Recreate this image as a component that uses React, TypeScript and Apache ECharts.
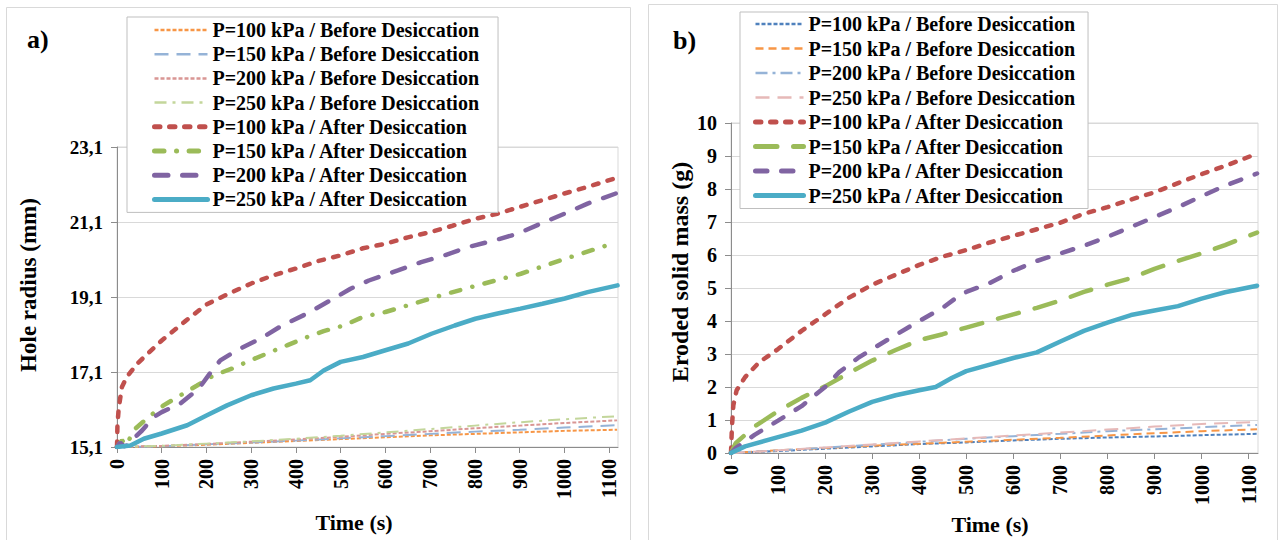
import React, { useEffect, useRef } from "react";
import * as echarts from "echarts";

type Pt = [number, number];

const SERIF = "'Liberation Serif', 'Times New Roman', serif";

const TIME_TICKS = [0, 100, 200, 300, 400, 500, 600, 700, 800, 900, 1000, 1100];
const RADIUS_TICKS = [15.1, 17.1, 19.1, 21.1, 23.1];

const SERIES_NAMES = [
  "P=100 kPa / Before Desiccation",
  "P=150 kPa / Before Desiccation",
  "P=200 kPa / Before Desiccation",
  "P=250 kPa / Before Desiccation",
  "P=100 kPa / After Desiccation",
  "P=150 kPa / After Desiccation",
  "P=200 kPa / After Desiccation",
  "P=250 kPa / After Desiccation",
];

// a) Hole radius (mm) versus time (s)
const radius100Before: Pt[] = [[0, 15.1], [100, 15.12], [200, 15.16], [300, 15.21], [400, 15.26], [500, 15.31], [600, 15.36], [700, 15.41], [800, 15.45], [900, 15.49], [1000, 15.53], [1118, 15.56]];
const radius150Before: Pt[] = [[0, 15.1], [100, 15.12], [200, 15.17], [300, 15.22], [400, 15.27], [500, 15.33], [600, 15.39], [700, 15.45], [800, 15.51], [900, 15.56], [1000, 15.62], [1118, 15.68]];
const radius200Before: Pt[] = [[0, 15.1], [100, 15.13], [200, 15.18], [300, 15.24], [400, 15.3], [500, 15.37], [600, 15.45], [700, 15.52], [800, 15.6], [900, 15.67], [1000, 15.74], [1118, 15.81]];
const radius250Before: Pt[] = [[0, 15.1], [100, 15.13], [200, 15.19], [300, 15.25], [400, 15.32], [500, 15.4], [600, 15.49], [700, 15.58], [800, 15.67], [900, 15.76], [1000, 15.84], [1118, 15.92]];
const radius100After: Pt[] = [[0, 15.1], [1, 15.7], [4, 16.15], [11, 16.7], [22, 16.97], [45, 17.32], [100, 17.94], [150, 18.43], [200, 18.9], [250, 19.19], [300, 19.46], [350, 19.68], [400, 19.86], [450, 20.06], [500, 20.21], [550, 20.4], [600, 20.52], [650, 20.69], [700, 20.83], [750, 21.0], [800, 21.18], [850, 21.32], [900, 21.5], [950, 21.68], [1000, 21.86], [1050, 22.03], [1115, 22.27]];
const radius150After: Pt[] = [[0, 15.1], [11, 15.28], [20, 15.15], [41, 15.59], [75, 15.94], [104, 16.21], [142, 16.48], [179, 16.74], [216, 17.01], [257, 17.19], [298, 17.41], [343, 17.63], [380, 17.81], [425, 18.03], [462, 18.19], [507, 18.34], [550, 18.57], [600, 18.7], [651, 18.88], [732, 19.17], [821, 19.46], [903, 19.72], [992, 20.08], [1096, 20.48], [1115, 20.55]];
const radius200After: Pt[] = [[0, 15.1], [7, 15.22], [15, 15.12], [25, 15.15], [41, 15.37], [56, 15.54], [82, 15.9], [100, 16.03], [142, 16.26], [183, 16.66], [210, 17.1], [231, 17.41], [268, 17.68], [321, 17.99], [369, 18.34], [425, 18.66], [477, 19.01], [522, 19.32], [563, 19.54], [628, 19.81], [680, 20.03], [732, 20.21], [784, 20.43], [844, 20.61], [896, 20.79], [948, 21.06], [1000, 21.32], [1052, 21.59], [1115, 21.86]];
const radius250After: Pt[] = [[0, 15.1], [30, 15.14], [60, 15.32], [100, 15.46], [157, 15.68], [200, 15.94], [246, 16.21], [300, 16.48], [350, 16.66], [400, 16.79], [432, 16.88], [462, 17.14], [500, 17.37], [550, 17.5], [600, 17.68], [651, 17.86], [703, 18.12], [755, 18.34], [801, 18.52], [851, 18.66], [902, 18.79], [951, 18.92], [1001, 19.06], [1052, 19.23], [1119, 19.41]];

// b) Eroded solid mass (g) versus time (s)
const mass100Before: Pt[] = [[0, 0], [100, 0.06], [200, 0.13], [300, 0.2], [400, 0.27], [500, 0.32], [600, 0.38], [700, 0.43], [800, 0.47], [900, 0.5], [1000, 0.54], [1118, 0.58]];
const mass150Before: Pt[] = [[0, 0], [100, 0.08], [200, 0.15], [300, 0.22], [400, 0.28], [500, 0.34], [600, 0.4], [700, 0.46], [800, 0.53], [900, 0.6], [1000, 0.66], [1118, 0.72]];
const mass200Before: Pt[] = [[0, 0], [100, 0.08], [200, 0.16], [300, 0.25], [400, 0.34], [500, 0.43], [600, 0.51], [700, 0.58], [800, 0.66], [900, 0.72], [1000, 0.78], [1118, 0.85]];
const mass250Before: Pt[] = [[0, 0], [100, 0.08], [200, 0.17], [300, 0.26], [400, 0.35], [500, 0.44], [600, 0.53], [700, 0.62], [800, 0.71], [900, 0.8], [1000, 0.88], [1118, 0.94]];
const mass100After: Pt[] = [[0, 0], [2, 0.8], [5, 1.45], [12, 1.9], [30, 2.3], [60, 2.75], [100, 3.15], [150, 3.7], [200, 4.2], [250, 4.7], [300, 5.1], [350, 5.4], [400, 5.7], [450, 5.95], [500, 6.15], [550, 6.38], [600, 6.58], [650, 6.78], [700, 6.98], [750, 7.25], [800, 7.45], [850, 7.68], [900, 7.9], [950, 8.18], [1000, 8.45], [1050, 8.7], [1118, 9.07]];
const mass150After: Pt[] = [[0, 0], [10, 0.3], [50, 0.8], [100, 1.27], [150, 1.67], [200, 2.02], [250, 2.42], [300, 2.8], [350, 3.12], [400, 3.42], [450, 3.6], [500, 3.8], [550, 4.0], [600, 4.2], [650, 4.4], [700, 4.62], [750, 4.88], [800, 5.1], [850, 5.3], [900, 5.58], [950, 5.82], [1000, 6.05], [1050, 6.3], [1118, 6.68]];
const mass200After: Pt[] = [[0, 0], [10, 0.15], [50, 0.55], [100, 0.98], [150, 1.42], [200, 2.0], [230, 2.45], [270, 2.88], [300, 3.15], [350, 3.58], [400, 4.0], [450, 4.4], [480, 4.72], [500, 4.88], [550, 5.15], [600, 5.52], [650, 5.82], [700, 6.05], [750, 6.28], [800, 6.55], [850, 6.85], [900, 7.15], [950, 7.45], [1000, 7.78], [1050, 8.1], [1118, 8.47]];
const mass250After: Pt[] = [[0, 0], [30, 0.2], [100, 0.48], [150, 0.68], [200, 0.92], [250, 1.25], [300, 1.55], [350, 1.75], [400, 1.9], [435, 2.0], [470, 2.28], [500, 2.48], [550, 2.68], [600, 2.88], [650, 3.05], [700, 3.38], [750, 3.7], [800, 3.95], [850, 4.18], [900, 4.32], [950, 4.45], [1000, 4.68], [1050, 4.87], [1118, 5.07]];

type Style = { color: string; width: number; dash: number[] | "solid"; cap: "butt" | "round" };

// Thin "before" curves use square-ended dashes; thick "after" curves use rounded dashes
const RADIUS_STYLES: Style[] = [
  { color: "#f79646", width: 2, dash: [4, 2], cap: "butt" },
  { color: "#95b3d7", width: 2, dash: [14, 8], cap: "butt" },
  { color: "#d99694", width: 2, dash: [4, 2], cap: "butt" },
  { color: "#c3d69b", width: 2, dash: [12, 6, 3, 6], cap: "butt" },
  { color: "#c0504d", width: 4.5, dash: [5.5, 9.5], cap: "round" },
  { color: "#9bbb59", width: 4.5, dash: [9.5, 12.5, 0.1, 12.5], cap: "round" },
  { color: "#8064a2", width: 4.5, dash: [13.5, 14.5], cap: "round" },
  { color: "#4bacc6", width: 4.5, dash: "solid", cap: "round" },
];

const MASS_STYLES: Style[] = [
  { color: "#4f81bd", width: 2, dash: [4, 2], cap: "butt" },
  { color: "#f79646", width: 2, dash: [8, 5], cap: "butt" },
  { color: "#95b3d7", width: 2, dash: [12, 5, 3, 5], cap: "butt" },
  { color: "#e6b9b8", width: 2, dash: [14, 8], cap: "butt" },
  { color: "#c0504d", width: 4.5, dash: [5.5, 9.5], cap: "round" },
  { color: "#9bbb59", width: 4.5, dash: [21.5, 16.5], cap: "round" },
  { color: "#8064a2", width: 4.5, dash: [11.5, 14.5], cap: "round" },
  { color: "#4bacc6", width: 4.5, dash: "solid", cap: "round" },
];

const RADIUS_DATA = [radius100Before, radius150Before, radius200Before, radius250Before, radius100After, radius150After, radius200After, radius250After];
const MASS_DATA = [mass100Before, mass150Before, mass200Before, mass250Before, mass100After, mass150After, mass200After, mass250After];

const AXIS_GREY = "#8c8c8c";
const GRID_GREY = "#d9d9d9";

function buildSeries(data: Pt[][], styles: Style[]) {
  return data.map((d, i) => {
    const s = styles[i];
    return {
      type: "line",
      name: SERIES_NAMES[i],
      data: d,
      symbol: "none",
      smooth: false,
      lineStyle: { color: s.color, width: s.width, type: s.dash, cap: s.cap },
      itemStyle: { color: s.color },
    };
  });
}

function timeAxis() {
  return {
    type: "value",
    min: 0,
    max: 1120,
    axisLine: { show: true, onZero: false, lineStyle: { color: AXIS_GREY, width: 1 } },
    axisTick: { show: true, customValues: TIME_TICKS, length: 6, lineStyle: { color: AXIS_GREY } },
    axisLabel: {
      customValues: TIME_TICKS,
      rotate: 90,
      margin: 12,
      fontFamily: SERIF,
      fontWeight: "bold",
      fontSize: 20,
      color: "#000",
      formatter: (v: number) => String(v),
    },
    splitLine: { show: false },
  };
}

function legend(styles: Style[], left: number, top: number, padding: number[], itemWidth: number, itemGap: number) {
  return {
    orient: "vertical",
    left,
    top,
    padding,
    itemWidth,
    itemHeight: 20,
    itemGap,
    selectedMode: false,
    backgroundColor: "#fff",
    borderColor: "#bfbfbf",
    borderWidth: 1,
    borderRadius: 0,
    // line samples only, each as thick as its curve
    data: SERIES_NAMES.map((name, i) => ({
      name,
      lineStyle: { width: styles[i].width + 0.5, cap: styles[i].cap },
    })),
    itemStyle: { opacity: 0 },
    textStyle: { fontFamily: SERIF, fontWeight: "bold", fontSize: 20, lineHeight: 20, color: "#000" },
  };
}

function titleText(x: number, y: number, text: string, size: number, rotated = false) {
  return {
    type: "text",
    x,
    y,
    rotation: rotated ? Math.PI / 2 : 0,
    silent: true,
    style: {
      text,
      fill: "#000",
      font: `bold ${size}px ${SERIF}`,
      align: "center",
      verticalAlign: "middle",
    },
  };
}

const radiusOption = {
  animation: false,
  grid: { left: 117, top: 147, width: 501, height: 300, show: true, borderColor: GRID_GREY, borderWidth: 1 },
  xAxis: timeAxis(),
  yAxis: {
    type: "value",
    min: 15.1,
    max: 23.1,
    axisLine: { show: true, onZero: false, lineStyle: { color: AXIS_GREY } },
    axisTick: { show: true, customValues: RADIUS_TICKS, length: 6, lineStyle: { color: AXIS_GREY } },
    axisLabel: {
      customValues: RADIUS_TICKS,
      margin: 14,
      fontFamily: SERIF,
      fontWeight: "bold",
      fontSize: 19,
      color: "#000",
      formatter: (v: number) => v.toFixed(1).replace(".", ","),
    },
    splitLine: { show: true, lineStyle: { color: GRID_GREY } },
  },
  legend: legend(RADIUS_STYLES, 127, 17, [3, 19, 3, 25], 53, 4.2),
  series: buildSeries(RADIUS_DATA, RADIUS_STYLES),
  graphic: [
    { type: "rect", silent: true, shape: { x: 6.5, y: 7.5, width: 624, height: 545 }, style: { fill: "none", stroke: GRID_GREY, lineWidth: 1 } },
    { type: "text", x: 27, y: 26, silent: true, style: { text: "a)", fill: "#000", font: `bold 26px ${SERIF}` } },
    titleText(28, 285, "Hole radius (mm)", 23, true),
    titleText(354, 522, "Time (s)", 22),
  ],
};

const massOption = {
  animation: false,
  grid: { left: 91, top: 123, width: 527, height: 330, show: true, borderColor: GRID_GREY, borderWidth: 1 },
  xAxis: timeAxis(),
  yAxis: {
    type: "value",
    min: 0,
    max: 10,
    interval: 1,
    axisLine: { show: true, onZero: false, lineStyle: { color: AXIS_GREY } },
    axisTick: { show: true, length: 6, lineStyle: { color: AXIS_GREY } },
    axisLabel: {
      margin: 14,
      fontFamily: SERIF,
      fontWeight: "bold",
      fontSize: 20,
      color: "#000",
    },
    splitLine: { show: true, lineStyle: { color: GRID_GREY } },
  },
  legend: legend(MASS_STYLES, 100, 12, [2, 13, 3, 13], 48, 4.5),
  series: buildSeries(MASS_DATA, MASS_STYLES),
  graphic: [
    { type: "rect", silent: true, shape: { x: 8.5, y: 4.5, width: 629, height: 545 }, style: { fill: "none", stroke: GRID_GREY, lineWidth: 1 } },
    { type: "text", x: 33, y: 27, silent: true, style: { text: "b)", fill: "#000", font: `bold 26px ${SERIF}` } },
    titleText(40, 272, "Eroded solid mass (g)", 24, true),
    titleText(350, 524, "Time (s)", 22),
  ],
};

function Panel({ left, width, option }: { left: number; width: number; option: any }) {
  const ref = useRef<HTMLDivElement>(null);
  useEffect(() => {
    if (!ref.current) return;
    const chart = echarts.init(ref.current, undefined, { renderer: "svg" });
    chart.setOption(option);
    return () => chart.dispose();
  }, [option]);
  return (
    <div
      ref={ref}
      style={{ position: "absolute", left, top: 0, width, height: 540, background: "#fff" }}
    />
  );
}

export default function App() {
  return (
    <div style={{ position: "absolute", left: 0, top: 0, width: 1281, height: 540, background: "#fff" }}>
      <Panel left={0} width={640} option={radiusOption} />
      <Panel left={640} width={641} option={massOption} />
    </div>
  );
}
